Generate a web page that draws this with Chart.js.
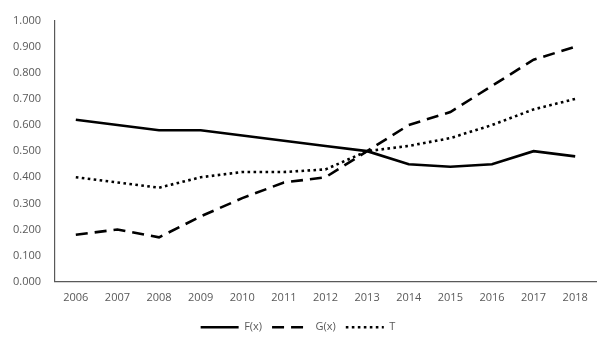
<!DOCTYPE html>
<html>
<head>
<meta charset="utf-8">
<script src="https://cdn.jsdelivr.net/npm/chart.js@4/dist/chart.umd.min.js"></script>
<style>
  html, body { margin: 0; padding: 0; background: #fff; }
  #wrap { width: 612px; height: 350px; position: relative; }
</style>
</head>
<body>
<div id="wrap"><canvas id="trend"></canvas></div>
<script>
const years = ["2006", "2007", "2008", "2009", "2010", "2011", "2012", "2013", "2014", "2015", "2016", "2017", "2018"];
const fValues = [0.62, 0.60, 0.58, 0.58, 0.56, 0.54, 0.52, 0.50, 0.45, 0.44, 0.45, 0.50, 0.48];
const gValues = [0.18, 0.20, 0.17, 0.25, 0.32, 0.38, 0.40, 0.50, 0.60, 0.65, 0.75, 0.85, 0.90];
const tValues = [0.40, 0.38, 0.36, 0.40, 0.42, 0.42, 0.43, 0.50, 0.52, 0.55, 0.60, 0.66, 0.70];

const axisGray = "#595959";
const font = { family: "'Open Sans', sans-serif", size: 11 };

function series(label, data, dash) {
  return {
    label: label,
    data: data,
    borderColor: "#000",
    backgroundColor: "#000",
    borderWidth: 2.6,
    borderDash: dash,
    pointRadius: 0,
    pointStyle: "line",
    tension: 0,
    fill: false,
  };
}

new Chart(document.getElementById("trend"), {
  type: "line",
  data: {
    labels: years,
    datasets: [
      series("F(x)", fValues, []),
      series("G(x)", gValues, [12, 7]),
      series("T", tValues, [2.6, 3.4]),
    ],
  },
  options: {
    responsive: true,
    maintainAspectRatio: false,
    animation: false,
    layout: { padding: { left: 0, right: 16, top: 1.4, bottom: 7.3 } },
    scales: {
      x: {
        offset: true,
        grid: { display: false, drawTicks: false },
        border: { display: true, color: axisGray, width: 1.2 },
        ticks: { color: axisGray, font: font, padding: 10, maxRotation: 0 },
        afterFit: (scale) => { scale.height = 30; },
      },
      y: {
        min: 0,
        max: 1,
        grid: { display: false, drawTicks: false },
        border: { display: true, color: axisGray, width: 1.2 },
        ticks: {
          stepSize: 0.1,
          color: axisGray,
          font: font,
          padding: 14,
          callback: (v) => v.toFixed(3),
        },
        afterFit: (scale) => { scale.width = 55; },
      },
    },
    plugins: {
      legend: {
        position: "bottom",
        labels: {
          usePointStyle: true,
          pointStyleWidth: 38,
          boxWidth: 38,
          boxHeight: 8,
          padding: 10,
          color: axisGray,
          font: font,
          // point-style legend items drop the dataset dash, so copy it back
          generateLabels: (chart) =>
            Chart.defaults.plugins.legend.labels.generateLabels(chart).map((item) => {
              item.lineDash = chart.data.datasets[item.datasetIndex].borderDash;
              return item;
            }),
        },
      },
      tooltip: { enabled: false },
    },
  },
});
</script>
</body>
</html>
